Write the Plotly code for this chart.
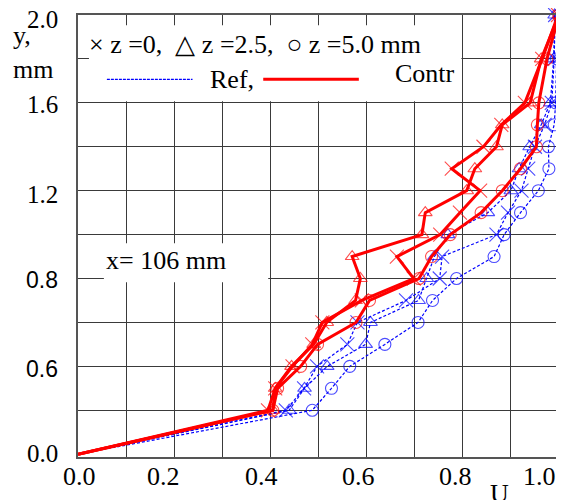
import plotly.graph_objects as go

# ---------------- data ----------------
y_mm = [0, 0.2, 0.3, 0.4, 0.5, 0.6, 0.7, 0.8, 0.9, 1.0, 1.1, 1.2, 1.3, 1.4, 1.5, 1.6, 1.8, 2.0]

ref_z0  = [0, 0.432, 0.470, 0.497, 0.560, 0.581, 0.682, 0.752, 0.757, 0.870, 0.894, 0.922, 0.936, 0.950, 0.970, 0.985, 0.990, 0.992]
ref_z25 = [0, 0.439, 0.471, 0.518, 0.598, 0.608, 0.708, 0.725, 0.741, 0.769, 0.852, 0.900, 0.917, 0.939, 0.963, 0.982, 0.989, 0.991]
ref_z50 = [0, 0.487, 0.527, 0.565, 0.638, 0.707, 0.737, 0.787, 0.865, 0.886, 0.920, 0.957, 0.979, 0.978, 0.990, 0.993, 0.995, 1.000]

con_z0  = [0, 0.395, 0.410, 0.446, 0.487, 0.508, 0.590, 0.698, 0.663, 0.753, 0.794, 0.836, 0.777, 0.843, 0.880, 0.929, 0.965, 0.998]
con_z25 = [0, 0.405, 0.410, 0.444, 0.490, 0.517, 0.577, 0.587, 0.570, 0.715, 0.722, 0.808, 0.825, 0.870, 0.882, 0.940, 0.963, 1.000]
con_z50 = [0, 0.405, 0.415, 0.463, 0.498, 0.578, 0.606, 0.709, 0.735, 0.774, 0.838, 0.882, 0.920, 0.953, 0.955, 0.958, 0.975, 1.000]

x_tick_labels = ["0.0", "0.2", "0.4", "0.6", "0.8", "1.0"]
y_tick_labels = ["0.0", "0.6", "0.8", "1.2", "1.6", "2.0"]

# ---------------- layout geometry ----------------
# screen pixels of the 564x500 window; the page body adds an 8px offset
OFF = 8
W, H = 564 - OFF, 500 - OFF
PLOT_L, PLOT_R, PLOT_T, PLOT_B = 78, 561, 14.7, 456.7  # screen px
L = PLOT_L - OFF
T = PLOT_T - OFF
R = W - (PLOT_R - OFF)
B = H - (PLOT_B - OFF)
PW, PH = W - L - R, H - T - B


def px(xs):
    return (xs - PLOT_L) / (PLOT_R - PLOT_L)


def py(ys):
    return (PLOT_B - ys) / (PLOT_B - PLOT_T)


SERIF = "Liberation Serif, Times New Roman, serif"
SANS = "Liberation Sans, Arial, sans-serif"
BLUE = "#0000ff"
RED = "#ff0000"

fig = go.Figure()

series = [
    (ref_z0, "x-thin-open", BLUE, "ref"),
    (ref_z25, "triangle-up-open", BLUE, "ref"),
    (ref_z50, "circle-open", BLUE, "ref"),
    (con_z0, "x-thin-open", RED, "con"),
    (con_z25, "triangle-up-open", RED, "con"),
    (con_z50, "circle-open", RED, "con"),
]
for u, sym, col, kind in series:
    if kind == "ref":
        line = dict(color=col, width=1.2, dash="3px,2px")
    else:
        line = dict(color=col, width=3)
    size = 14 if sym.startswith("x") else 12
    sizes = [0] + [size] * (len(u) - 1)  # no marker at the wall point
    fig.add_trace(go.Scatter(
        x=u, y=y_mm, mode="lines+markers",
        line=line,
        marker=dict(symbol=sym, size=sizes, color=col,
                    line=dict(color=col, width=1.1)),
        showlegend=False, cliponaxis=False,
    ))

fig.update_xaxes(range=[0, 1.0], showgrid=True, gridcolor="#3a3a3a", gridwidth=1,
                 tick0=0, dtick=0.1, showticklabels=False, ticks="",
                 showline=True, linecolor="#555555", linewidth=2, mirror=True,
                 zeroline=False)
fig.update_yaxes(range=[-0.0128, 2.0], showgrid=True, gridcolor="#3a3a3a", gridwidth=1,
                 tickvals=[0.2 * i for i in range(1, 11)], showticklabels=False, ticks="",
                 showline=True, linecolor="#555555", linewidth=2, mirror=True,
                 zeroline=False)

shapes = [
    dict(type="rect", xref="paper", yref="paper", x0=px(89), x1=px(463), y0=py(101), y1=py(25),
         fillcolor="white", line=dict(width=0), layer="above"),
    dict(type="rect", xref="paper", yref="paper", x0=px(104), x1=px(269), y0=py(282), y1=py(243),
         fillcolor="white", line=dict(width=0), layer="above"),
    dict(type="line", xref="paper", yref="paper", x0=px(107), x1=px(193), y0=py(79), y1=py(79),
         line=dict(color=BLUE, width=1.2, dash="3px,1px"), layer="above"),
    dict(type="line", xref="paper", yref="paper", x0=px(264), x1=px(360), y0=py(79), y1=py(79),
         line=dict(color=RED, width=3), layer="above"),
]

ann = []


def text(t, x, y, size=26, xanchor="left", font=SERIF):
    ann.append(dict(text=t, xref="paper", yref="paper", x=px(x), y=py(y),
                    xanchor=xanchor, yanchor="middle", showarrow=False,
                    font=dict(family=font, size=size, color="black")))


text("\u00d7 z =0,  \u25b3 z =2.5,  \u25cb z =5.0 mm", 87, 44)
text("Ref,", 209, 79)
text("Contr", 394, 73)
text("x= 106 mm", 104, 260)
text("y,", 11, 35)
text("mm", 11, 69)
text("U", 501, 493, xanchor="center")

x_tick_px = [79.5, 164, 262, 360, 457, 541]
for lab, xp in zip(x_tick_labels, x_tick_px):
    text(lab, xp, 476, xanchor="center")

y_tick_py = [453.5, 369, 279.5, 194.5, 104.5, 19.5]
y_tick_font = [SERIF, SANS, SANS, SERIF, SERIF, SERIF]
for lab, yp, fnt in zip(y_tick_labels, y_tick_py, y_tick_font):
    text(lab, 60, yp, size=25 if fnt == SERIF else 23, xanchor="right", font=fnt)

fig.update_layout(
    width=W, height=H,
    margin=dict(l=L, r=R, t=T, b=B, pad=0),
    paper_bgcolor="white", plot_bgcolor="white",
    shapes=shapes, annotations=ann,
    showlegend=False,
)

fig.write_html("out.html")
